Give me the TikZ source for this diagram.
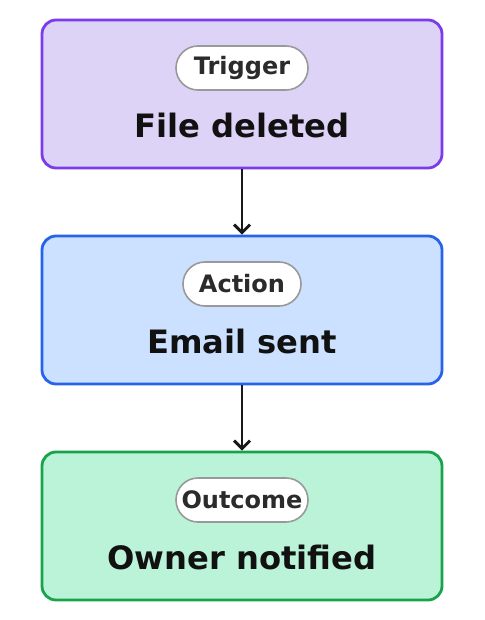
\documentclass[tikz,border=0pt]{standalone}
\usepackage{fontspec}
\setmainfont{DejaVu Sans}
\usetikzlibrary{arrows.meta}
\definecolor{purpfill}{HTML}{DDD3F7}
\definecolor{purpline}{HTML}{7C3AED}
\definecolor{bluefill}{HTML}{CCE0FF}
\definecolor{blueline}{HTML}{2563EB}
\definecolor{grnfill}{HTML}{BBF3D9}
\definecolor{grnline}{HTML}{16A34A}
\definecolor{pillline}{HTML}{999999}
\definecolor{pilltext}{HTML}{2B2B2B}
\definecolor{maintext}{HTML}{111111}
\tikzset{
  card/.style={draw, rounded corners=14pt, line width=2.8pt, minimum width=400pt, minimum height=148pt, inner sep=0pt},
  pill/.style={draw=pillline, fill=white, rounded corners=22pt, line width=1.6pt, minimum height=44pt, inner xsep=0pt, inner ysep=0pt, text=pilltext, font=\bfseries\fontsize{24}{28}\selectfont},
  title/.style={text=maintext, font=\bfseries\fontsize{32.2}{38}\selectfont, inner sep=0pt},
  link/.style={draw=black!90, line width=2.9pt, -{Straight Barb[length=8pt,width=16pt,line width=2.9pt]}}
}
\begin{document}
\begin{tikzpicture}[x=1pt,y=-1pt]
\useasboundingbox (0,0) rectangle (484,620);
\node[card, draw=purpline, fill=purpfill] (b1) at (242,94) {};
\node[card, draw=blueline, fill=bluefill] (b2) at (242,310) {};
\node[card, draw=grnline, fill=grnfill] (b3) at (242,526) {};
\node[pill, minimum width=132pt] (p1) at (242,68) {Trigger};
\node[pill, minimum width=118pt] (p2) at (242,284) {Action};
\node[pill, minimum width=132pt] (p3) at (242,500) {Outcome};
\node[title] (t1) at (242,125.5) {File deleted};
\node[title] (t2) at (242,341.5) {Email sent};
\node[title] (t3) at (242,557.5) {Owner notified};
\draw[link] (b1.south) -- (b2.north);
\draw[link] (b2.south) -- (b3.north);
\end{tikzpicture}
\end{document}
